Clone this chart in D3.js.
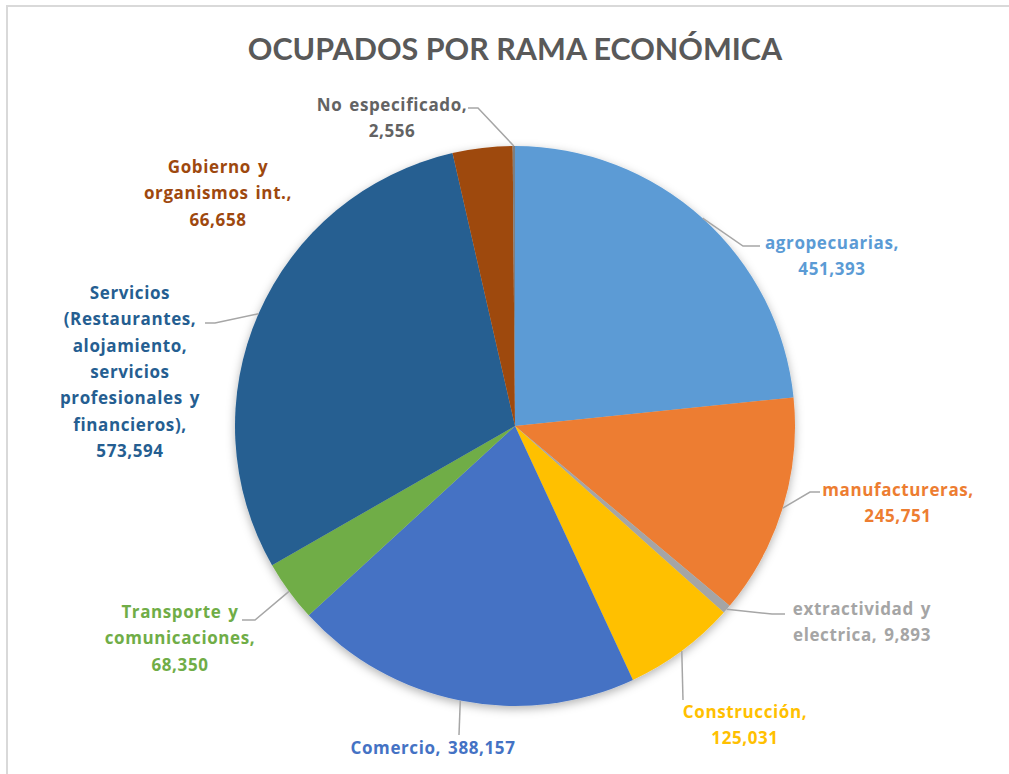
<!DOCTYPE html>
<html>
<head>
<meta charset="utf-8">
<script src="https://cdn.jsdelivr.net/npm/d3@7"></script>
<style>
  html, body { margin: 0; padding: 0; background: #ffffff; }
  svg { display: block; }
  text { font-family: Lato, "Open Sans", sans-serif; font-weight: 700; }
  .lbl { font-family: "Open Sans", Lato, sans-serif; letter-spacing: 0.6px; word-spacing: 2px; }
</style>
</head>
<body>
<svg id="chart" width="1009" height="774"></svg>
<script>
// Occupied population by economic branch
const categories = [
  "agropecuarias",
  "manufactureras",
  "extractividad y electrica",
  "Construcción",
  "Comercio",
  "Transporte y comunicaciones",
  "Servicios (Restaurantes, alojamiento, servicios profesionales y financieros)",
  "Gobierno y organismos int.",
  "No especificado"
];
const values = [451393, 245751, 9893, 125031, 388157, 68350, 573594, 66658, 2556];
const colors = ["#5B9BD5", "#ED7D31", "#A5A5A5", "#FFC000", "#4472C4", "#70AD47", "#255E91", "#9E480E", "#7F7F7F"];
const labelColors = ["#5B9BD5", "#ED7D31", "#A5A5A5", "#FFC000", "#4472C4", "#70AD47", "#255E91", "#9E480E", "#636363"];

// Label text split into lines; "{v}" is replaced by the formatted value
const labelLines = [
  ["agropecuarias,", "{v}"],
  ["manufactureras,", "{v}"],
  ["extractividad y", "electrica, {v}"],
  ["Construcción,", "{v}"],
  ["Comercio, {v}"],
  ["Transporte y", "comunicaciones,", "{v}"],
  ["Servicios", "(Restaurantes,", "alojamiento,", "servicios", "profesionales y", "financieros),", "{v}"],
  ["Gobierno y", "organismos int.,", "{v}"],
  ["No especificado,", "{v}"]
];

// Label placement (text centre x, first baseline y) and leader line knee/end points
const labelLayout = [
  { x: 832, y: 249, leader: [[743, 246], [760, 246]] },
  { x: 898, y: 496, leader: [[810, 492], [820, 492]] },
  { x: 862, y: 615, leader: [[772, 614], [785, 614]] },
  { x: 745, y: 718, leader: [[683, 700], [683, 700]] },
  { x: 433, y: 754, leader: [[459, 735], [459, 735]] },
  { x: 180, y: 618, leader: [[255, 620], [242, 620]] },
  { x: 130, y: 299, leader: [[215, 323], [205, 323]] },
  { x: 218, y: 173, leader: null },
  { x: 392, y: 111, leader: [[478, 108], [468, 108]] }
];

const W = 1009, H = 774;
const cx = 515, cy = 426, R = 280;
const lineH = 26.3;
const fmt = d3.format(",");

const svg = d3.select("#chart");

// chart frame
svg.append("rect")
  .attr("x", 7).attr("y", 6)
  .attr("width", W + 20).attr("height", H + 20)
  .attr("fill", "#ffffff")
  .attr("stroke", "#d9d9d9")
  .attr("stroke-width", 2);

const defs = svg.append("defs");
const f = defs.append("filter").attr("id", "pieShadow")
  .attr("x", "-20%").attr("y", "-20%").attr("width", "140%").attr("height", "140%");
f.append("feDropShadow")
  .attr("dx", 0).attr("dy", 3)
  .attr("stdDeviation", 5)
  .attr("flood-color", "#000000")
  .attr("flood-opacity", 0.3);

// title
svg.append("text")
  .attr("x", 515).attr("y", 60)
  .attr("text-anchor", "middle")
  .attr("fill", "#595959")
  .style("font-size", "30.5px")
  .text("OCUPADOS POR RAMA ECONÓMICA");

const data = categories.map((c, i) => ({ name: c, value: values[i], i }));

const pie = d3.pie().value(d => d.value).sort(null);
const arcs = pie(data);
const arc = d3.arc().innerRadius(0).outerRadius(R);

const g = svg.append("g").attr("transform", `translate(${cx},${cy})`);

g.append("g").attr("filter", "url(#pieShadow)")
  .selectAll("path")
  .data(arcs)
  .join("path")
  .attr("d", arc)
  .attr("fill", d => colors[d.data.i]);

// leader lines from the slice edge at mid-angle
const edge = d3.arc().innerRadius(R).outerRadius(R);
svg.append("g")
  .selectAll("polyline")
  .data(arcs.filter(d => labelLayout[d.data.i].leader))
  .join("polyline")
  .attr("points", d => {
    const [ex, ey] = edge.centroid(d);
    const pts = [[cx + ex, cy + ey], ...labelLayout[d.data.i].leader];
    return pts.map(p => p.join(",")).join(" ");
  })
  .attr("fill", "none")
  .attr("stroke", "#A6A6A6")
  .attr("stroke-width", 1.5);

// data labels
const labels = svg.append("g")
  .selectAll("text")
  .data(arcs)
  .join("text")
  .attr("class", "lbl")
  .attr("text-anchor", "middle")
  .attr("fill", d => labelColors[d.data.i])
  .style("font-size", "17px");

labels.each(function(d) {
  const L = labelLayout[d.data.i];
  d3.select(this).selectAll("tspan")
    .data(labelLines[d.data.i])
    .join("tspan")
    .attr("x", L.x)
    .attr("y", (s, k) => L.y + k * lineH)
    .text(s => s.replace("{v}", fmt(d.data.value)));
});
</script>
</body>
</html>
